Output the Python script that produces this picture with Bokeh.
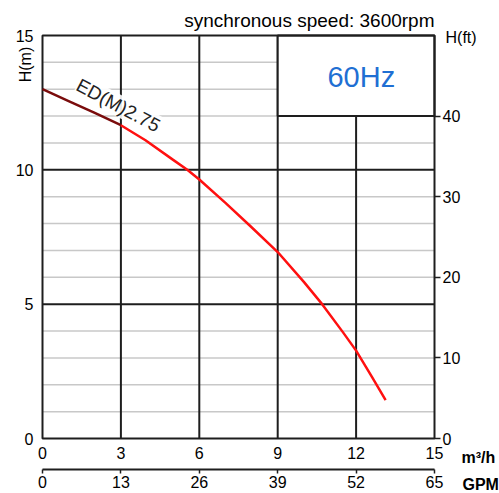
import math
from bokeh.plotting import figure
from bokeh.models import Range1d, LinearAxis, FixedTicker, Label
from bokeh.core.properties import value
from bokeh.embed import file_html
from bokeh.resources import INLINE

# ---- data ----
flow_m3h = [0, 1, 2, 3, 3.94, 5.0, 5.54, 6, 7, 7.96, 9, 10, 10.7, 11.5, 12, 12.6, 13.13]
head_m = [13.0, 12.56, 12.12, 11.66, 11.1, 10.37, 10.0, 9.64, 8.77, 7.9, 6.94, 5.83, 5.0, 3.95, 3.27, 2.3, 1.43]
x_ticks = [0, 3, 6, 9, 12, 15]
y_ticks = [0, 5, 10, 15]
minor_head = [1, 2, 3, 4, 6, 7, 8, 9, 11, 12, 13, 14]
ft_ticks = [0, 10, 20, 30, 40]
gpm_ticks = [0, 13, 26, 39, 52, 65]
model_name = "ED(M)2.75"
title_text = "synchronous speed: 3600rpm"
freq_text = "60Hz"
flow_unit = "m³/h"
gpm_unit = "GPM"
head_unit = "H(m)"
ft_unit = "H(ft)"

# ---- layout (pixels) ----
W, H = 499, 493
PL, PR, PT, PB = 42, 434, 35, 438       # drawn plot area inside the canvas
GPM_AXIS_PX = 469
X0, X1 = x_ticks[0], x_ticks[-1]
Y0, Y1 = y_ticks[0], y_ticks[-1]
kx = (PR - PL) / (X1 - X0)
ky = (PB - PT) / (Y1 - Y0)
xr = Range1d(X0 - PL / kx, X1 + (W - PR) / kx)
yr = Range1d(Y0 - (H - PB) / ky, Y1 + PT / ky)
M_PER_FT = 0.3
GPM_PER_M3H = gpm_ticks[-1] / x_ticks[-1]

FONT = "Liberation Sans"
DARK = "#1e1e1e"
LIGHT = "#c8c8c8"

p = figure(width=W, height=H, output_backend="svg", toolbar_location=None,
           x_range=xr, y_range=yr, min_border=0,
           x_axis_location=None, y_axis_location=None)
p.background_fill_color = "white"
p.border_fill_color = "white"
p.outline_line_color = None
p.grid.visible = False

p.extra_y_ranges = {"ft": Range1d(yr.start / M_PER_FT, yr.end / M_PER_FT)}
p.extra_x_ranges = {"gpm": Range1d(xr.start * GPM_PER_M3H, xr.end * GPM_PER_M3H)}

# ---- grid lines (drawn from the tick values) ----
p.segment(x0=[X0] * len(minor_head), y0=minor_head, x1=[X1] * len(minor_head), y1=minor_head,
          line_color=LIGHT, line_width=1.5)
heavy_x = x_ticks[1:-1]
heavy_y = y_ticks[1:-1]
p.segment(x0=heavy_x, y0=[Y0] * len(heavy_x), x1=heavy_x, y1=[Y1] * len(heavy_x),
          line_color=DARK, line_width=2)
p.segment(x0=[X0] * len(heavy_y), y0=heavy_y, x1=[X1] * len(heavy_y), y1=heavy_y,
          line_color=DARK, line_width=2)

# 60Hz box
p.quad(left=[x_ticks[3]], right=[X1], bottom=[minor_head[9]], top=[Y1], fill_color="white",
       line_color=DARK, line_width=2)
# plot border
p.quad(left=[X0], right=[X1], bottom=[Y0], top=[Y1], fill_color=None,
       line_color=DARK, line_width=2)

# ---- pump curve ----
p.line(flow_m3h[:4], head_m[:4], line_color="#7a0c0c", line_width=2.5)
p.line(flow_m3h[3:], head_m[3:], line_color="#ff1010", line_width=2.5)

# ---- axes ----
def style_labels(ax):
    ax.major_label_text_font = FONT
    ax.major_label_text_font_size = "16px"
    ax.major_label_text_color = "black"
    ax.minor_tick_line_color = None

left = LinearAxis(ticker=FixedTicker(ticks=y_ticks), fixed_location=X0)
left.axis_line_color = None
left.major_tick_line_color = None
left.major_tick_out = 0
left.major_label_standoff = 9
style_labels(left)
p.add_layout(left, "left")

right = LinearAxis(y_range_name="ft", ticker=FixedTicker(ticks=ft_ticks), fixed_location=X1)
right.axis_line_color = None
right.major_tick_in = 0
right.major_tick_out = 6
right.major_tick_line_color = DARK
right.major_tick_line_width = 1.5
right.major_label_standoff = 2
style_labels(right)
p.add_layout(right, "right")

bottom = LinearAxis(ticker=FixedTicker(ticks=x_ticks), fixed_location=Y0)
bottom.axis_line_color = None
bottom.major_tick_line_color = None
bottom.major_tick_out = 0
bottom.major_label_standoff = 8
style_labels(bottom)
p.add_layout(bottom, "below")

gpm = LinearAxis(x_range_name="gpm", ticker=FixedTicker(ticks=gpm_ticks),
                 fixed_location=Y0 - (GPM_AXIS_PX - PB) / ky,
                 bounds=(gpm_ticks[0], gpm_ticks[-1]))
gpm.axis_line_color = DARK
gpm.axis_line_width = 2
gpm.major_tick_in = 0
gpm.major_tick_out = 4
gpm.major_tick_line_color = DARK
gpm.major_tick_line_width = 1.5
gpm.major_label_standoff = 2
style_labels(gpm)
p.add_layout(gpm, "below")

# ---- texts ----
p.add_layout(Label(x=2.9, y=12.4, text=model_name, angle=-28 * math.pi / 180,
                   text_align="center", text_baseline="middle",
                   text_font=FONT, text_font_size="19px", text_color="#222222",
                   background_fill_color="white", background_fill_alpha=0.9))
p.add_layout(Label(x=12.2, y=13.45, text=freq_text, text_align="center", text_baseline="middle",
                   text_font=FONT, text_font_size="29px", text_color="#1f6fd3"))
p.add_layout(Label(x=X1, y=Y1, y_offset=15, text=title_text, text_align="right",
                   text_baseline="middle", text_font=FONT, text_font_size="19px",
                   text_color="black"))
p.add_layout(Label(x=X1, y=Y1, x_offset=11, y_offset=-2, text=ft_unit, text_align="left",
                   text_baseline="middle", text_font=FONT, text_font_size="16px",
                   text_color="black"))
p.add_layout(Label(x=X0, y=Y1, x_offset=-17, y_offset=-29, text=head_unit, angle=math.pi / 2,
                   text_align="center", text_baseline="middle", text_font=FONT,
                   text_font_size="16px", text_color="black"))
p.add_layout(Label(x=X1, y=Y0, x_offset=27, y_offset=-19, text=flow_unit, text_align="left",
                   text_baseline="middle", text_font=FONT, text_font_size="16px",
                   text_font_style="bold", text_color="black"))
p.add_layout(Label(x=X1, y=Y0, x_offset=28, y_offset=-46, text=gpm_unit, text_align="left",
                   text_baseline="middle", text_font=FONT, text_font_size="16px",
                   text_font_style="bold", text_color="black"))

open("out.html", "w").write(file_html(p, INLINE))
